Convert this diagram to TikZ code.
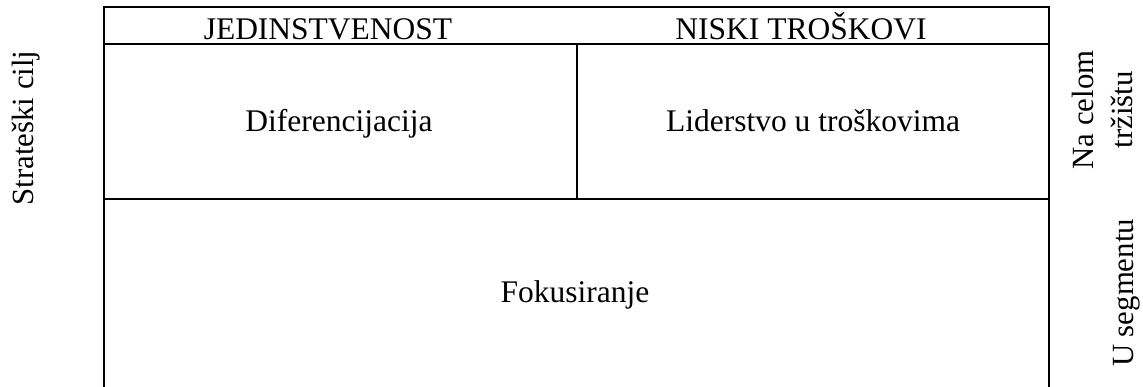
\documentclass[tikz,border=0pt]{standalone}
\usepackage{fontspec}
\setmainfont{Liberation Serif}
\begin{document}
\begin{tikzpicture}[x=1pt,y=-1pt,
  grid/.style={line width=2.6pt},
  lbl/.style={font=\fontsize{31.5}{38}\selectfont, inner sep=0pt, anchor=base},
  side/.style={font=\fontsize{30.8}{39}\selectfont, inner sep=0pt, anchor=base,
    align=center, rotate=90}]
\useasboundingbox (0,0) rectangle (1143,387);
% frame of the matrix (open at the bottom)
\coordinate (bl) at (104,387);
\coordinate (tl) at (104,7);
\coordinate (tr) at (1049,7);
\coordinate (br) at (1049,387);
\coordinate (hl) at (104,44);
\coordinate (hr) at (1049,44);
\coordinate (rl) at (104,199);
\coordinate (rr) at (1049,199);
\coordinate (mt) at (577,44);
\coordinate (mb) at (577,199);
\draw[grid] (bl) -- (tl) -- (tr) -- (br);
\draw[grid] (hl) -- (hr);
\draw[grid] (rl) -- (rr);
\draw[grid] (mt) -- (mb);
% column headings
\node[lbl] (h1) at (328,40) {JEDINSTVENOST};
\node[lbl] (h2) at (801,40) {NISKI TROŠKOVI};
% cells
\node[lbl] (dif) at (339,132) {Diferencijacija};
\node[lbl] (lid) at (813,132) {Liderstvo u troškovima};
\node[lbl] (fok) at (575,303) {Fokusiranje};
% side labels (base anchor of the two-line label sits on its last line)
\node[side] (cilj) at (33,128) {Strateški cilj};
\node[side] (cel) at (1132,110) {Na celom\\tržištu};
\node[side] (seg) at (1133,293) {U segmentu};
\end{tikzpicture}
\end{document}
